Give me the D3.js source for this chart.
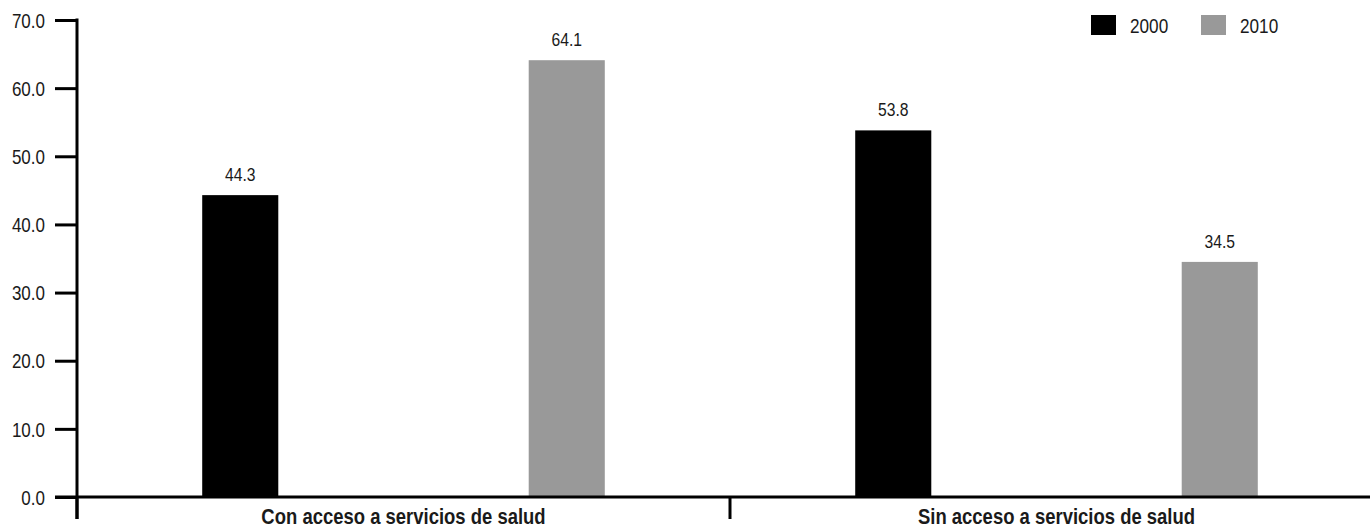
<!DOCTYPE html>
<html>
<head>
<meta charset="utf-8">
<script src="https://cdn.jsdelivr.net/npm/d3@7"></script>
<style>
  html, body { margin: 0; padding: 0; background: #fff; }
  svg { display: block; }
  text { font-family: "Liberation Sans", Arial, sans-serif; fill: #1a1a1a; }
</style>
</head>
<body>
<svg id="chart" width="1370" height="527"></svg>
<script>
const categories = ["Con acceso a servicios de salud", "Sin acceso a servicios de salud"];
const series = ["2000", "2010"];
const values2000 = [44.3, 53.8];
const values2010 = [64.1, 34.5];
const yTicks = [0, 10, 20, 30, 40, 50, 60, 70];
const colors = ["#000000", "#999999"];

const svg = d3.select("#chart");
const W = 1370, H = 527;
const y = d3.scaleLinear().domain([0, 70]).range([497, 20]);
const x = d3.scaleBand().domain(categories).range([77, 1383]).padding(0);
const xs = d3.scaleBand().domain(series).range([0, x.bandwidth()]).padding(0);
const barW = xs.bandwidth() * 0.233;

// horizontally condense text (narrow face look)
function condense(sel, k) {
  sel.each(function () {
    const t = d3.select(this);
    const tx = +t.attr("x") || 0, ty = +t.attr("y") || 0;
    t.attr("x", 0).attr("y", 0).attr("transform", `translate(${tx},${ty}) scale(${k},1)`);
  });
}

const data = [];
categories.forEach((c, i) => {
  data.push({cat: c, s: "2000", v: values2000[i]});
  data.push({cat: c, s: "2010", v: values2010[i]});
});

// bars
svg.append("g").selectAll("rect").data(data).join("rect")
  .attr("x", d => x(d.cat) + xs(d.s) + (xs.bandwidth() - barW) / 2)
  .attr("y", d => y(d.v))
  .attr("width", barW)
  .attr("height", d => y(0) - y(d.v))
  .attr("fill", d => colors[series.indexOf(d.s)]);

// value labels
svg.append("g").selectAll("text").data(data).join("text")
  .attr("x", d => x(d.cat) + xs(d.s) + xs.bandwidth() / 2)
  .attr("y", d => y(d.v) - 14)
  .attr("text-anchor", "middle")
  .style("font-size", "18px")
  .text(d => d.v.toFixed(1))
  .call(condense, 0.87);

// y axis
const yAxis = d3.axisLeft(y).tickValues(yTicks).tickFormat(d3.format(".1f")).tickSize(22).tickPadding(10);
const gy = svg.append("g").attr("transform", "translate(77,0)").call(yAxis);
gy.select(".domain").remove();
gy.selectAll(".tick line").attr("stroke", "#000").attr("stroke-width", 3);
gy.selectAll(".tick text").style("font-size", "20px").attr("fill", "#1a1a1a").attr("dy", "0.36em")
  .call(condense, 0.85);
gy.append("line").attr("x1", 0).attr("x2", 0).attr("y1", 18.5).attr("y2", 519).attr("stroke", "#000").attr("stroke-width", 3);

// x axis
const xAxis = d3.axisBottom(x).tickSize(0).tickPadding(0);
const gx = svg.append("g").attr("transform", "translate(0,497)").call(xAxis);
gx.select(".domain").remove();
gx.append("line").attr("x1", 55).attr("x2", W).attr("y1", 0).attr("y2", 0).attr("stroke", "#000").attr("stroke-width", 3);
gx.selectAll(".tick text").attr("y", 27).attr("dy", 0)
  .style("font-size", "22px").style("font-weight", "bold").attr("fill", "#1a1a1a")
  .call(condense, 0.84);
// category separators
const seps = [x.range()[0], ...categories.slice(1).map(c => x(c)), x.range()[1]];
gx.selectAll("line.sep").data(seps).join("line").attr("class", "sep")
  .attr("x1", d => d).attr("x2", d => d).attr("y1", 0).attr("y2", 22)
  .attr("stroke", "#000").attr("stroke-width", 3);

// legend
const lx = [1091, 1201];
const lg = svg.append("g").selectAll("g").data(series).join("g")
  .attr("transform", (d, i) => `translate(${lx[i]},15)`);
lg.append("rect").attr("width", 25).attr("height", 20).attr("fill", (d, i) => colors[i]);
lg.append("text").attr("x", 39).attr("y", 17.5).style("font-size", "20px").text(d => d)
  .call(condense, 0.86);
</script>
</body>
</html>
